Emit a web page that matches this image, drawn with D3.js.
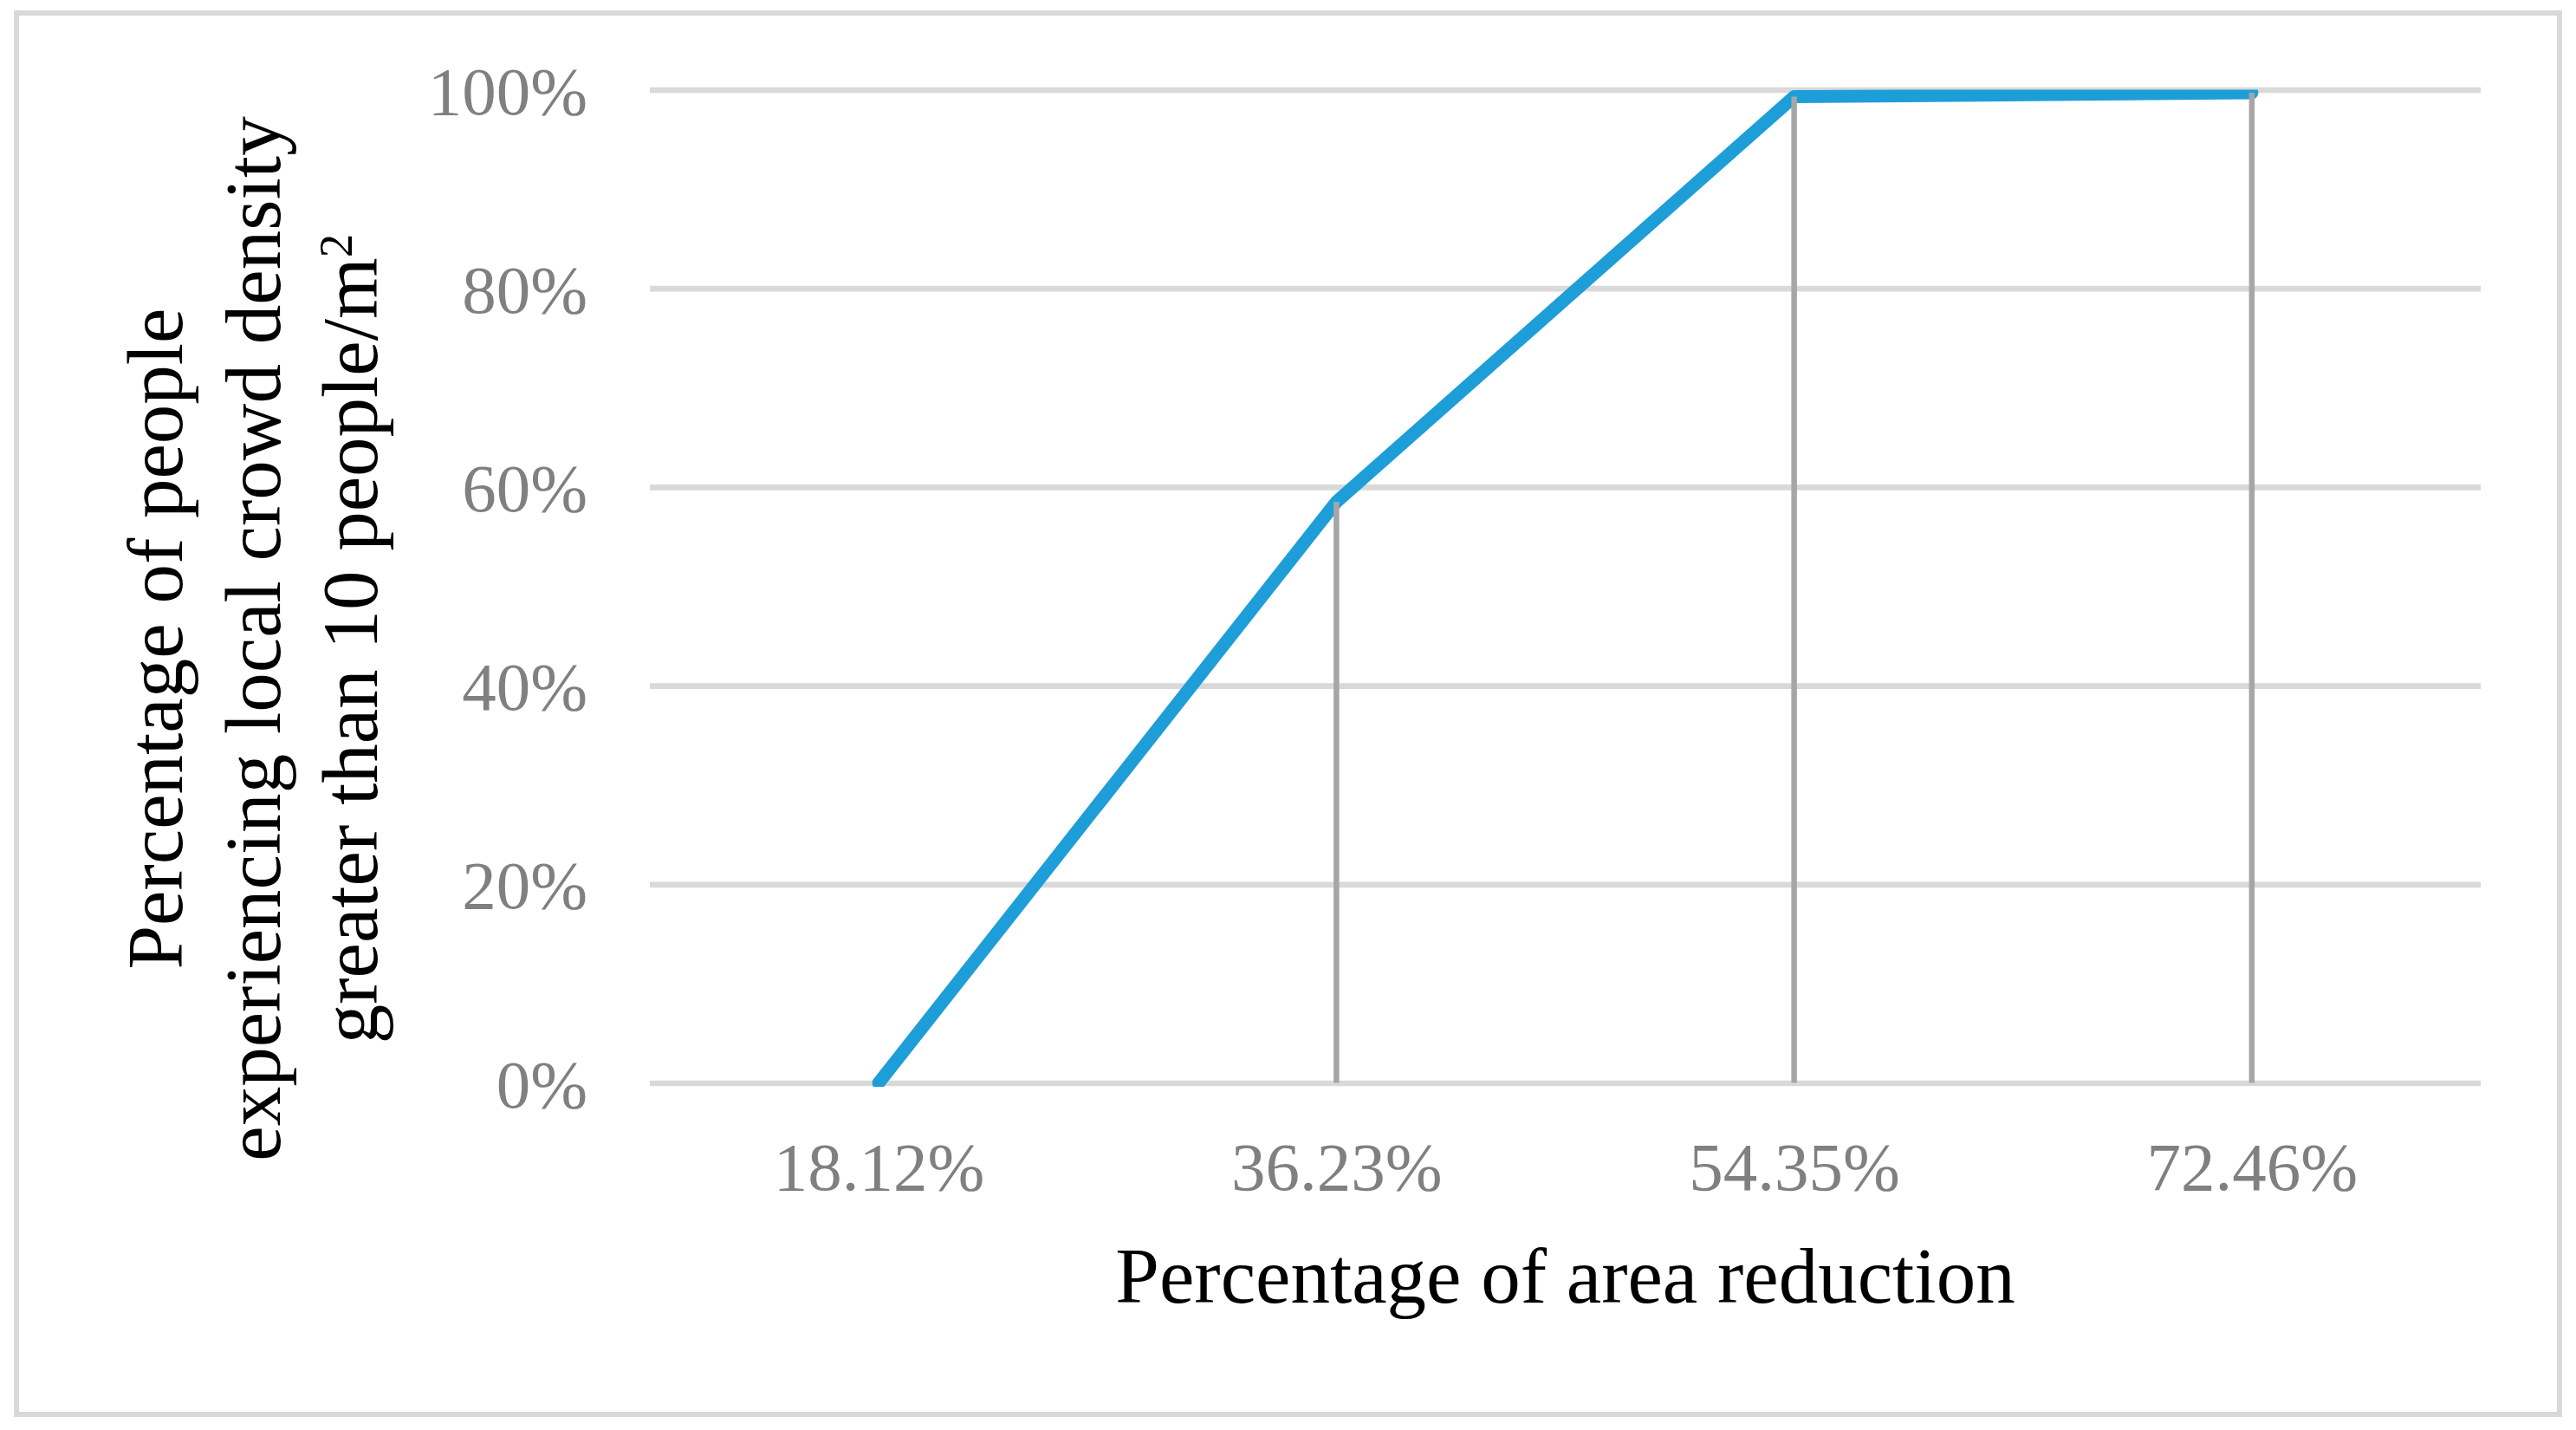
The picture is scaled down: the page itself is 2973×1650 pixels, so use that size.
<!DOCTYPE html>
<html>
<head>
<meta charset="utf-8">
<script src="https://cdn.jsdelivr.net/npm/d3@7"></script>
<style>
  html, body { margin: 0; padding: 0; background: #ffffff; }
  svg { display: block; }
</style>
</head>
<body>
<svg id="chart" width="2973" height="1650"></svg>
<script>
// ---- data ----
const categories = ["18.12%", "36.23%", "54.35%", "72.46%"];
const values = [0, 0.585, 0.993, 0.997];
const yTicks = [0, 0.2, 0.4, 0.6, 0.8, 1.0];
const xTitle = "Percentage of area reduction";
const yTitleLines = ["Percentage of people", "experiencing local crowd density", "greater than 10 people/m"];
const yTitleSup = "2";

// ---- layout ----
const W = 2973, H = 1650;
const plot = { left: 750, right: 2863, top: 103.5, bottom: 1249.5 };
const serif = "'Liberation Serif', 'Times New Roman', serif";

const svg = d3.select("#chart");

// outer border
svg.append("rect")
  .attr("x", 19).attr("y", 15)
  .attr("width", 2935).attr("height", 1617)
  .attr("fill", "#ffffff")
  .attr("stroke", "#d9d9d9")
  .attr("stroke-width", 6);

const x = d3.scalePoint().domain(categories).range([plot.left, plot.right]).padding(0.5);
const y = d3.scaleLinear().domain([0, 1]).range([plot.bottom, plot.top]);

// y axis with gridlines
const yAxis = svg.append("g")
  .attr("transform", `translate(${plot.left},0)`)
  .call(d3.axisLeft(y).tickValues(yTicks).tickFormat(d3.format(".0%"))
        .tickSize(-(plot.right - plot.left)).tickPadding(72));
yAxis.select(".domain").remove();
yAxis.selectAll(".tick line").attr("stroke", "#d9d9d9").attr("stroke-width", 6.7);
yAxis.selectAll(".tick text")
  .attr("fill", "#808080")
  .attr("font-family", serif)
  .attr("font-size", 79)
  .attr("dy", "0.35em");

// x axis labels
const xAxis = svg.append("g")
  .attr("transform", `translate(0,${plot.bottom})`)
  .call(d3.axisBottom(x).tickSize(0));
xAxis.select(".domain").remove();
xAxis.selectAll(".tick text")
  .attr("fill", "#808080")
  .attr("font-family", serif)
  .attr("font-size", 79)
  .attr("y", 123.5)
  .attr("dy", 0);

// clip for the series line
svg.append("defs").append("clipPath").attr("id", "plotClip")
  .append("rect")
  .attr("x", plot.left).attr("y", plot.top)
  .attr("width", plot.right - plot.left)
  .attr("height", plot.bottom - plot.top + 4.5);

const pts = categories.map((c, i) => ({ c, v: values[i] }));

// series line
svg.append("path")
  .datum(pts)
  .attr("clip-path", "url(#plotClip)")
  .attr("fill", "none")
  .attr("stroke", "#1e9ed9")
  .attr("stroke-width", 15)
  .attr("stroke-linejoin", "round")
  .attr("stroke-linecap", "round")
  .attr("d", d3.line().x(d => x(d.c)).y(d => y(d.v)));

// drop lines
svg.append("g").selectAll("line")
  .data(pts)
  .join("line")
  .attr("x1", d => x(d.c)).attr("x2", d => x(d.c))
  .attr("y1", d => y(d.v)).attr("y2", y(0))
  .attr("stroke", "#a6a6a6")
  .attr("stroke-width", 6.5);

// x title
svg.append("text")
  .attr("x", (plot.left + plot.right) / 2)
  .attr("y", 1503)
  .attr("text-anchor", "middle")
  .attr("font-family", serif)
  .attr("font-size", 91)
  .attr("fill", "#000000")
  .text(xTitle);

// y title (rotated, three lines)
const yTitleBaselines = [210, 323, 435];
const yt = svg.append("g");
yTitleLines.forEach((line, i) => {
  const t = yt.append("text")
    .attr("transform", `translate(${yTitleBaselines[i]},737) rotate(-90)`)
    .attr("text-anchor", "middle")
    .attr("font-family", serif)
    .attr("font-size", 91)
    .attr("fill", "#000000");
  t.append("tspan").text(line);
  if (i === yTitleLines.length - 1) {
    t.append("tspan").attr("font-size", 55).attr("dy", -29).text(yTitleSup);
  }
});
</script>
</body>
</html>
